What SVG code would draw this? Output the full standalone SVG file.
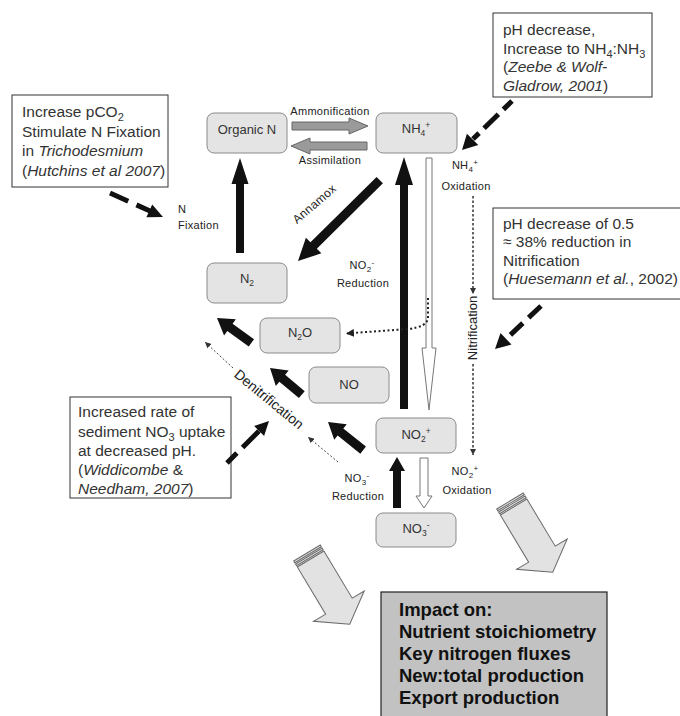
<svg xmlns="http://www.w3.org/2000/svg" width="680" height="716" viewBox="0 0 680 716">
<style>
.nd rect{fill:#e4e4e4;stroke:#8a8a8a;stroke-width:1}
.nt{font-family:'Liberation Sans',Arial,sans-serif;font-size:13px;fill:#333;text-anchor:middle}
.lb{font-family:'Liberation Sans',Arial,sans-serif;font-size:11px;fill:#222;text-anchor:middle;letter-spacing:0.3px}
.bx{fill:#fff;stroke:#333;stroke-width:1}
.bt{font-family:'Liberation Sans',Arial,sans-serif;font-size:15.5px;fill:#333}
.ib{fill:#c2c2c2;stroke:#222;stroke-width:1.2}
.it{font-family:'Liberation Sans',Arial,sans-serif;font-size:18.5px;font-weight:bold;fill:#111}
.blk{fill:#111}
.wht{fill:#fff;stroke:#777;stroke-width:1}
.gry{fill:#9a9a9a;stroke:#666;stroke-width:1}
.dash{stroke:#111;stroke-width:5;fill:none}
.big{fill:#e2e2e2;stroke:#6a6a6a;stroke-width:1}
.dot1{stroke:#444;stroke-width:1;fill:none;stroke-dasharray:2 2}
.dot2{stroke:#333;stroke-width:1.5;fill:none;stroke-dasharray:2.5 2}
.dot3{stroke:#222;stroke-width:2;fill:none;stroke-dasharray:2 2.5}
</style>
<defs>
<marker id="sm" viewBox="0 0 10 10" refX="10" refY="5" markerWidth="6" markerHeight="6" markerUnits="userSpaceOnUse" orient="auto"><path d="M0,0 L10,5 L0,10 z" fill="#333"/></marker>
<marker id="md" viewBox="0 0 10 10" refX="10" refY="5" markerWidth="8" markerHeight="8" markerUnits="userSpaceOnUse" orient="auto"><path d="M0,0 L10,5 L0,10 z" fill="#222"/></marker>
<g id="bigArrow">
<rect x="0" y="-15.5" width="2" height="31" class="big"/>
<rect x="3.5" y="-15.5" width="2" height="31" class="big"/>
<polygon class="big" points="7,-15.5 62,-15.5 62,-29.5 83,0 62,29.5 62,15.5 7,15.5"/>
</g>
</defs>

<!-- Text boxes -->
<g id="box-hutchins">
<rect class="bx" x="12" y="95" width="156" height="92"/>
<text class="bt" x="22" y="117">Increase pCO<tspan dy="4" font-size="11">2</tspan></text>
<text class="bt" x="22" y="136.5">Stimulate N Fixation</text>
<text class="bt" x="22" y="156">in <tspan font-style="italic">Trichodesmium</tspan></text>
<text class="bt" x="22" y="175.5">(<tspan font-style="italic">Hutchins et al 2007</tspan>)</text>
</g>
<g id="box-zeebe">
<rect class="bx" x="493" y="13" width="159" height="84"/>
<text class="bt" x="503" y="35">pH decrease,</text>
<text class="bt" x="503" y="53.5">Increase to NH<tspan dy="4" font-size="11">4</tspan><tspan dy="-4">:NH</tspan><tspan dy="4" font-size="11">3</tspan></text>
<text class="bt" x="503" y="72">(<tspan font-style="italic">Zeebe &amp; Wolf-</tspan></text>
<text class="bt" x="503" y="90.5"><tspan font-style="italic">Gladrow, 2001</tspan>)</text>
</g>
<g id="box-huesemann">
<rect class="bx" x="493" y="208" width="200" height="91"/>
<text class="bt" x="503" y="228.5">pH decrease of 0.5</text>
<text class="bt" x="503" y="247">≈ 38% reduction in</text>
<text class="bt" x="503" y="265.5">Nitrification</text>
<text class="bt" x="503" y="284">(<tspan font-style="italic">Huesemann et al.</tspan>, 2002)</text>
</g>
<g id="box-widdicombe">
<rect class="bx" x="70" y="397" width="161" height="101"/>
<text class="bt" x="78" y="417">Increased rate of</text>
<text class="bt" x="78" y="437">sediment NO<tspan dy="4" font-size="11">3</tspan><tspan dy="-4"> uptake</tspan></text>
<text class="bt" x="78" y="456">at decreased pH.</text>
<text class="bt" x="78" y="475">(<tspan font-style="italic">Widdicombe</tspan> &amp;</text>
<text class="bt" x="78" y="493.5"><tspan font-style="italic">Needham, 2007</tspan>)</text>
</g>
<g id="box-impact">
<rect class="ib" x="381" y="592" width="226" height="130"/>
<text class="it" x="399" y="616">Impact on:</text>
<text class="it" x="399" y="638">Nutrient stoichiometry</text>
<text class="it" x="399" y="660">Key nitrogen fluxes</text>
<text class="it" x="399" y="682">New:total production</text>
<text class="it" x="399" y="704">Export production</text>
</g>

<!-- Nodes -->
<g id="organicN" class="nd"><rect x="207" y="113" width="80" height="40" rx="7"/><text class="nt" x="247" y="134">Organic N</text></g>
<g id="NH4" class="nd"><rect x="376" y="113" width="81" height="40" rx="7"/><text class="nt" x="416" y="133">NH<tspan dy="3" font-size="8.5">4</tspan><tspan dy="-8" font-size="8.5">+</tspan></text></g>
<g id="N2" class="nd"><rect x="207" y="263" width="80" height="40" rx="7"/><text class="nt" x="247" y="283">N<tspan dy="3" font-size="8.5">2</tspan></text></g>
<g id="N2O" class="nd"><rect x="260" y="318" width="80" height="35" rx="7"/><text class="nt" x="300" y="337">N<tspan dy="3" font-size="8.5">2</tspan><tspan dy="-3">O</tspan></text></g>
<g id="NO" class="nd"><rect x="309" y="367" width="80" height="36" rx="7"/><text class="nt" x="349" y="389">NO</text></g>
<g id="NO2" class="nd"><rect x="376" y="418" width="80" height="35" rx="7"/><text class="nt" x="416" y="439">NO<tspan dy="3" font-size="8.5">2</tspan><tspan dy="-8" font-size="8.5">+</tspan></text></g>
<g id="NO3" class="nd"><rect x="376" y="513" width="80" height="34" rx="7"/><text class="nt" x="416" y="533">NO<tspan dy="3" font-size="8.5">3</tspan><tspan dy="-8" font-size="8.5">-</tspan></text></g>

<!-- Connectors -->
<g id="connectors">
<polygon class="gry" points="292,122 349,122 349,118 368,126 349,134 349,130 292,130"/>
<polygon class="gry" points="367,142 310,142 310,138 291,146 310,154 310,150 367,150"/>
<polygon class="blk" transform="translate(240,158) rotate(-90)" points="0,0 -26,-8.5 -26,-4 -95,-4 -95,4 -26,4 -26,8.5"/>
<polygon class="blk" transform="translate(404,157) rotate(-90)" points="0,0 -28,-9 -28,-4 -252,-4 -252,4 -28,4 -28,9"/>
<polygon class="blk" transform="translate(298,261) rotate(135.3)" points="0,0 -22,-11 -22,-4.5 -115,-4.5 -115,4.5 -22,4.5 -22,11"/>
<polygon class="blk" transform="translate(217,318) rotate(216)" points="0,0 -16,-10 -16,-4.5 -42.5,-4.5 -42.5,4.5 -16,4.5 -16,10"/>
<polygon class="blk" transform="translate(270,368) rotate(220)" points="0,0 -16,-10 -16,-4.5 -41.5,-4.5 -41.5,4.5 -16,4.5 -16,10"/>
<polygon class="blk" transform="translate(328,422) rotate(218.7)" points="0,0 -16,-10 -16,-4.5 -45,-4.5 -45,4.5 -16,4.5 -16,10"/>
<polygon class="blk" transform="translate(397,457) rotate(-90)" points="0,0 -14,-8 -14,-4 -51,-4 -51,4 -14,4 -14,8"/>
<polygon class="wht" transform="translate(429,410) rotate(90)" points="0,0 -62,-7 -62,-3 -252,-3 -252,3 -62,3 -62,7"/>
<polygon class="wht" transform="translate(424,508) rotate(90)" points="0,0 -12,-8 -12,-4 -50,-4 -50,4 -12,4 -12,8"/>
<path class="dot3" d="M428,298 L428,318 Q427,327 408,329 L346,333.5" marker-end="url(#md)"/>
<line class="dot1" x1="338" y1="462" x2="308" y2="437" marker-end="url(#sm)"/>
<line class="dot1" x1="233" y1="368" x2="205" y2="342" marker-end="url(#sm)"/>
<line class="dot2" x1="473" y1="196" x2="473" y2="294" marker-end="url(#sm)"/>
<line class="dot2" x1="473" y1="364" x2="473" y2="455" marker-end="url(#sm)"/>
<line class="dash" x1="110" y1="193" x2="150" y2="211" stroke-dasharray="20 9"/>
<polygon class="blk" points="163,217 152.2,204.4 146.4,217.2"/>
<line class="dash" x1="512" y1="101" x2="473" y2="139" stroke-dasharray="12 7 20 7"/>
<polygon class="blk" points="462,150 478.3,145.1 466.9,133.7"/>
<line class="dash" x1="541" y1="306" x2="506" y2="339" stroke-dasharray="17 8"/>
<polygon class="blk" points="495,349 511.5,344.6 500.5,333"/>
<line class="dash" x1="227" y1="463" x2="259" y2="431" stroke-dasharray="14 8 30"/>
<polygon class="blk" points="269,421 264.1,435.9 254.1,425.9"/>
<use href="#bigArrow" transform="translate(307,553) rotate(59)"/>
<use href="#bigArrow" transform="translate(510,501) rotate(59)"/>
</g>

<!-- Labels -->
<g id="labels">
<text class="lb" x="330" y="115">Ammonification</text>
<text class="lb" x="330" y="164">Assimilation</text>
<text class="lb" x="465" y="169">NH<tspan dy="3" font-size="8">4</tspan><tspan dy="-7" font-size="8">+</tspan></text>
<text class="lb" x="466" y="190">Oxidation</text>
<text class="lb" x="465" y="475">NO<tspan dy="3" font-size="8">2</tspan><tspan dy="-7" font-size="8">+</tspan></text>
<text class="lb" x="467" y="494">Oxidation</text>
<text class="lb" x="362" y="269">NO<tspan dy="3" font-size="8">2</tspan><tspan dy="-7" font-size="8">-</tspan></text>
<text class="lb" x="363" y="287">Reduction</text>
<text class="lb" x="357" y="482">NO<tspan dy="3" font-size="8">3</tspan><tspan dy="-7" font-size="8">-</tspan></text>
<text class="lb" x="358" y="500">Reduction</text>
<text class="lb" x="178" y="213" style="text-anchor:start">N</text>
<text class="lb" x="178" y="229" style="text-anchor:start">Fixation</text>
<text class="lb" transform="translate(317,207) rotate(-41)" x="0" y="0" style="font-size:12px">Annamox</text>
<text class="lb" transform="translate(266,403) rotate(39.4)" x="0" y="0" style="font-size:14px;letter-spacing:0">Denitrification</text>
<text class="lb" transform="translate(477,328) rotate(-90)" x="0" y="0" style="font-size:13px;letter-spacing:0">Nitrification</text>
</g>
</svg>
